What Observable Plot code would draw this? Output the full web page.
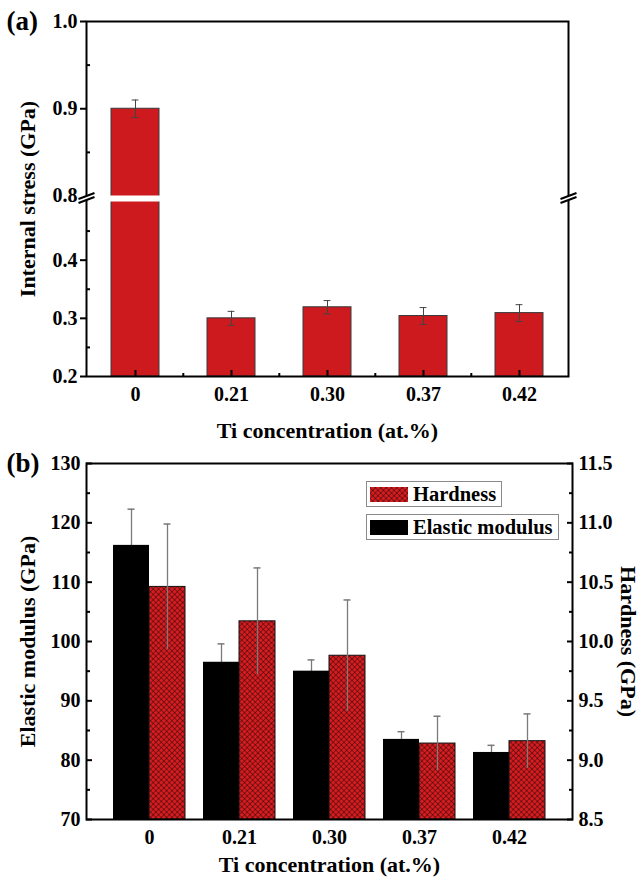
<!DOCTYPE html>
<html><head><meta charset="utf-8">
<script src="https://cdn.jsdelivr.net/npm/d3@7"></script>
<script src="https://cdn.jsdelivr.net/npm/@observablehq/plot@0.6"></script>
<style>
body{margin:0;background:#fff;}
#wrap{position:relative;width:644px;height:882px;overflow:hidden;background:#fff;font-family:"Liberation Serif",serif;font-weight:bold;color:#000;}
#wrap svg{display:block;overflow:visible;}
#wrap svg text{font-family:"Liberation Serif",serif !important;font-weight:700 !important;}
#defs{position:absolute;width:0;height:0;}
.leg{position:absolute;left:366px;border:1px solid #8a8a8a;background:#fff;display:flex;align-items:center;font-size:20.5px;height:24px;padding:0 5px 0 3px;line-height:1;font-weight:700;}
.leg svg{display:block;margin-right:5px;}
</style></head><body>
<svg id="defs"><defs>
<pattern id="hatch" patternUnits="userSpaceOnUse" width="3.8" height="3.8" patternTransform="rotate(45)">
<rect width="3.8" height="3.8" fill="#d81c20"></rect>
<path d="M0,0H3.8M0,0V3.8" stroke="#200808" stroke-width="0.95"></path>
</pattern></defs></svg>
<div id="wrap">
<div id="a"></div><div id="b"></div>
<div class="leg" style="top:481px"><svg width="38" height="15"><rect width="38" height="15" fill="url(#hatch)"></rect></svg>Hardness</div>
<div class="leg" style="top:514px"><svg width="38" height="15"><rect width="38" height="15" fill="#000"></rect></svg>Elastic modulus</div>
</div>
<script>
// ---------- data ----------
const concentrations = ["0", "0.21", "0.30", "0.37", "0.42"];
const stressValues = [0.90, 0.30, 0.319, 0.304, 0.309];
const stressErrors = [0.010, 0.012, 0.0115, 0.0145, 0.0145];
const stressTicks = [0.2, 0.3, 0.4, 0.8, 0.9, 1.0];
const stressMinorTicks = [0.25, 0.35, 0.45, 0.85, 0.95];
const stressBreak = [0.5, 0.8];
const stressDomain = [0.2, 1.0];

const modulusValues = [116.2, 96.5, 95.0, 83.5, 81.3];
const modulusErrors = [6.1, 3.1, 1.9, 1.3, 1.2];
const hardnessValues = [10.46, 10.17, 9.88, 9.14, 9.16];
const hardnessErrors = [0.53, 0.45, 0.47, 0.23, 0.23];
const modulusDomain = [70, 130];
const modulusTicks = [70, 80, 90, 100, 110, 120, 130];
const modulusMinorTicks = [75, 85, 95, 105, 115, 125];
const hardnessDomain = [8.5, 11.5];
const hardnessTicks = [8.5, 9.0, 9.5, 10.0, 10.5, 11.0, 11.5];
const hardnessMinorTicks = [8.75, 9.25, 9.75, 10.25, 10.75, 11.25];

// ---------- styling / layout ----------
const W = 644;
const RED = "#cc1a1e";
const baseStyle = {fontFamily: "Liberation Serif, serif", fontSize: "20px", fontWeight: "bold", color: "black", background: "white", overflow: "visible"};
const capW = 7;
const blank = () => "";
const titleOpts = {fontSize: 22, fontWeight: "bold", textAnchor: "middle", lineAnchor: "middle"};

// ---------- panel (a) ----------
const A = {height: 446, top: 21, bottom: 70, left: 86, right: 76, gap: 6, pIn: 0.5, pOut: 0.25};
const seg = (A.height - A.top - A.bottom - A.gap) / 2;
const yRangeA = [A.height - A.bottom, A.height - A.bottom - seg, A.top + seg, A.top];
const stepA = (W - A.left - A.right) / (concentrations.length - A.pIn + 2 * A.pOut);
const bwA = stepA * (1 - A.pIn);
const dataA = concentrations.map((c, i) => ({c, v: stressValues[i], e: stressErrors[i]}));

const breakLine = {draw(ctx) { ctx.moveTo(-8, 3); ctx.lineTo(8, -3); ctx.moveTo(-8, 7); ctx.lineTo(8, 1); }};
const breakFill = {draw(ctx) { ctx.moveTo(-8, 3); ctx.lineTo(8, -3); ctx.lineTo(8, 1); ctx.lineTo(-8, 7); ctx.closePath(); }};

const plotA = Plot.plot({
  width: W, height: A.height,
  marginTop: A.top, marginBottom: A.bottom, marginLeft: A.left, marginRight: A.right,
  style: baseStyle,
  x: {type: "band", domain: concentrations, paddingInner: A.pIn, paddingOuter: A.pOut},
  y: {type: "linear", domain: [stressDomain[0], stressBreak[0], stressBreak[1], stressDomain[1]], range: yRangeA},
  marks: [
    Plot.barY(dataA, {x: "c", y1: () => stressDomain[0], y2: "v", fill: RED, stroke: "#3a3a3a", strokeWidth: 1}),
    Plot.ruleX(dataA, {x: "c", y1: d => d.v - d.e, y2: d => d.v + d.e, stroke: "#444", strokeWidth: 1}),
    Plot.tickY(dataA, {x: "c", y: d => d.v + d.e, insetLeft: (bwA - capW) / 2, insetRight: (bwA - capW) / 2, stroke: "#444", strokeWidth: 1}),
    Plot.tickY(dataA, {x: "c", y: d => d.v - d.e, insetLeft: (bwA - capW) / 2, insetRight: (bwA - capW) / 2, stroke: "#444", strokeWidth: 1}),
    Plot.barY(dataA, {x: "c", y1: () => stressBreak[0], y2: () => stressBreak[1], fill: "white", insetLeft: -2, insetRight: -2}),
    Plot.frame({stroke: "black", strokeWidth: 2}),
    // y axis
    Plot.axisY({ticks: stressTicks, tickSize: 0, tickPadding: 9, tickFormat: ".1f", label: null, fontWeight: "bold"}),
    Plot.axisY({ticks: stressTicks.filter(t => !stressBreak.includes(t)), tickSize: 6, tickFormat: blank, label: null, strokeWidth: 2}),
    Plot.axisY({ticks: stressMinorTicks, tickSize: -4, tickFormat: blank, label: null, strokeWidth: 2}),
    // x axis
    Plot.axisX({tickSize: 0, tickPadding: 10, label: null, fontWeight: "bold"}),
    Plot.axisX({tickSize: -6, tickFormat: blank, label: null, strokeWidth: 2}),
    Plot.axisX({ticks: concentrations.slice(1), tickSize: -3, dx: -stepA / 2, tickFormat: blank, label: null, strokeWidth: 2}),
    // axis breaks
    Plot.dot([stressBreak[1]], {y: d => d, frameAnchor: "left", symbol: breakFill, fill: "white", stroke: "none"}),
    Plot.dot([stressBreak[1]], {y: d => d, frameAnchor: "left", symbol: breakLine, fill: "none", stroke: "black", strokeWidth: 2}),
    Plot.dot([stressBreak[1]], {y: d => d, frameAnchor: "right", symbol: breakFill, fill: "white", stroke: "none"}),
    Plot.dot([stressBreak[1]], {y: d => d, frameAnchor: "right", symbol: breakLine, fill: "none", stroke: "black", strokeWidth: 2}),
    // titles
    Plot.text(["Internal stress (GPa)"], {...titleOpts, frameAnchor: "left", dx: -59, rotate: -90}),
    Plot.text(["Ti concentration (at.%)"], {...titleOpts, frameAnchor: "bottom", dy: 54}),
    Plot.text(["(a)"], {frameAnchor: "top-left", dx: -80, textAnchor: "start", lineAnchor: "middle", fontSize: 27, fontWeight: "bold"})
  ]
});
document.getElementById("a").appendChild(plotA);

// ---------- panel (b) ----------
const B = {height: 436, top: 17, bottom: 63, left: 86, right: 72, pIn: 0.2, pOut: 0.3};
const stepB = (W - B.left - B.right) / (concentrations.length - B.pIn + 2 * B.pOut);
const bwB = stepB * (1 - B.pIn);
const toE = h => modulusDomain[0] + (h - hardnessDomain[0]) * (modulusDomain[1] - modulusDomain[0]) / (hardnessDomain[1] - hardnessDomain[0]);
const toH = e => hardnessDomain[0] + (e - modulusDomain[0]) * (hardnessDomain[1] - hardnessDomain[0]) / (modulusDomain[1] - modulusDomain[0]);
const dataB = concentrations.map((c, i) => ({c, E: modulusValues[i], Ee: modulusErrors[i], H: hardnessValues[i], He: hardnessErrors[i]}));
const ERR = "#7a7a7a";

const plotB = Plot.plot({
  width: W, height: B.height,
  marginTop: B.top, marginBottom: B.bottom, marginLeft: B.left, marginRight: B.right,
  style: baseStyle,
  x: {type: "band", domain: concentrations, paddingInner: B.pIn, paddingOuter: B.pOut},
  y: {domain: modulusDomain},
  marks: [
    Plot.ruleX(dataB, {x: "c", dx: -bwB / 4, y1: d => d.E - d.Ee, y2: d => d.E + d.Ee, stroke: ERR, strokeWidth: 1.3}),
    Plot.tickY(dataB, {x: "c", y: d => d.E + d.Ee, insetLeft: bwB / 4 - capW / 2, insetRight: 3 * bwB / 4 - capW / 2, stroke: ERR, strokeWidth: 1.5}),
    Plot.barY(dataB, {x: "c", y1: () => modulusDomain[0], y2: "E", fill: "black", insetRight: bwB / 2}),
    Plot.barY(dataB, {x: "c", y1: () => modulusDomain[0], y2: d => toE(d.H), fill: "url(#hatch)", stroke: "#111", strokeWidth: 1, insetLeft: bwB / 2}),
    Plot.ruleX(dataB, {x: "c", dx: bwB / 4, y1: d => toE(d.H - d.He), y2: d => toE(d.H + d.He), stroke: ERR, strokeWidth: 1.3}),
    Plot.tickY(dataB, {x: "c", y: d => toE(d.H + d.He), insetLeft: 3 * bwB / 4 - capW / 2, insetRight: bwB / 4 - capW / 2, stroke: ERR, strokeWidth: 1.5}),
    Plot.frame({stroke: "black", strokeWidth: 2}),
    // left axis
    Plot.axisY({ticks: modulusTicks, tickSize: 0, tickPadding: 6, label: null, fontWeight: "bold"}),
    Plot.axisY({ticks: modulusTicks, tickSize: -6, tickFormat: blank, label: null, strokeWidth: 2}),
    Plot.axisY({ticks: modulusMinorTicks, tickSize: -4, tickFormat: blank, label: null, strokeWidth: 2}),
    // right axis (hardness)
    Plot.axisY({anchor: "right", ticks: hardnessTicks.map(toE), tickSize: 0, tickPadding: 6, tickFormat: e => toH(e).toFixed(1), label: null, fontWeight: "bold"}),
    Plot.axisY({anchor: "right", ticks: hardnessTicks.map(toE), tickSize: -6, tickFormat: blank, label: null, strokeWidth: 2}),
    Plot.axisY({anchor: "right", ticks: hardnessMinorTicks.map(toE), tickSize: -4, tickFormat: blank, label: null, strokeWidth: 2}),
    // x axis
    Plot.axisX({tickSize: 0, tickPadding: 10, label: null, fontWeight: "bold"}),
    // titles
    Plot.text(["Elastic modulus (GPa)"], {...titleOpts, frameAnchor: "left", dx: -59, rotate: -90}),
    Plot.text(["Hardness (GPa)"], {...titleOpts, frameAnchor: "right", dx: 56, rotate: 90}),
    Plot.text(["Ti concentration (at.%)"], {...titleOpts, frameAnchor: "bottom", dy: 45}),
    Plot.text(["(b)"], {frameAnchor: "top-left", dx: -80, textAnchor: "start", lineAnchor: "middle", fontSize: 27, fontWeight: "bold"})
  ]
});
document.getElementById("b").appendChild(plotB);
</script>
</body></html>
